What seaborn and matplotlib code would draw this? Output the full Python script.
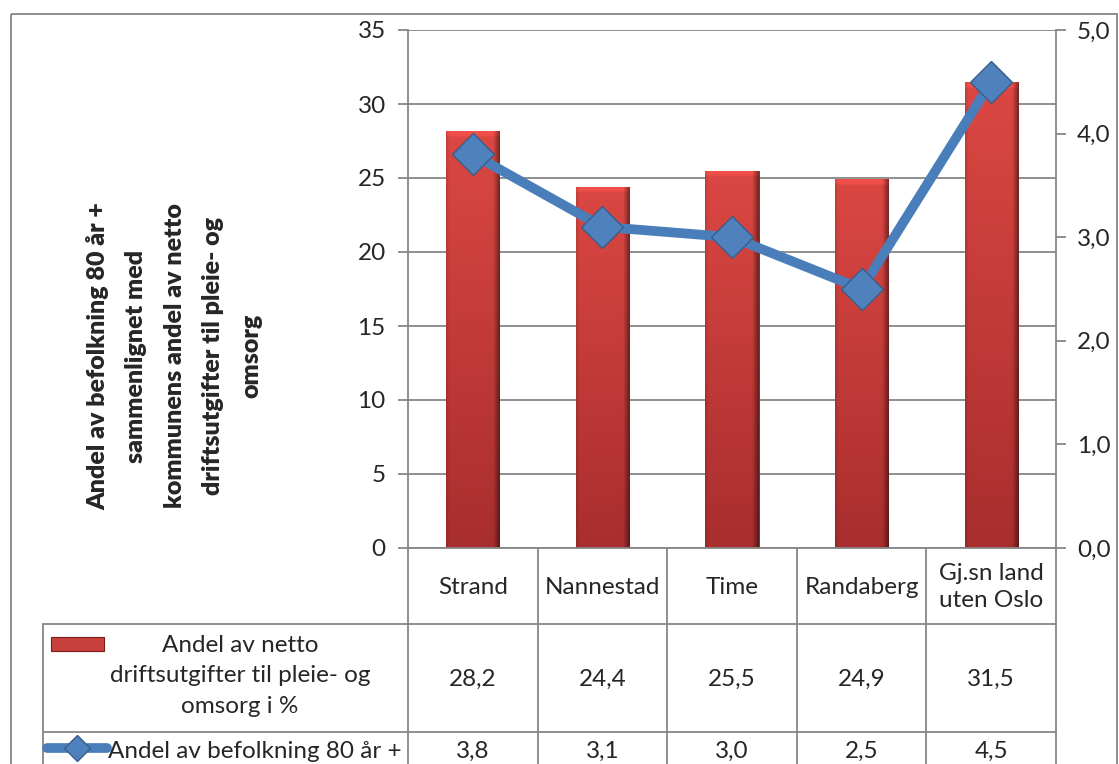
import numpy as np
import pandas as pd
import seaborn as sns
import matplotlib.pyplot as plt
from matplotlib.patches import Rectangle
from matplotlib.lines import Line2D

# data
categories = ["Strand", "Nannestad", "Time", "Randaberg", "Gj.sn land\nuten Oslo"]
utgifter = [28.2, 24.4, 25.5, 24.9, 31.5]
befolkning80 = [3.8, 3.1, 3.0, 2.5, 4.5]
left_ticks = [0, 5, 10, 15, 20, 25, 30, 35]
right_ticks = [0, 1, 2, 3, 4, 5]

bar_label = "Andel av netto\ndriftsutgifter til pleie- og\nomsorg i %"
line_label = "Andel av befolkning 80 år +"
ylabel = ("Andel av befolkning 80 år +\nsammenlignet med\nkommunens andel av netto\n"
          "driftsutgifter til pleie- og\nomsorg")

sns.set_style("white")
plt.rcParams['font.family'] = ['Lato', 'DejaVu Sans']

W, H = 1119, 764
GRAY = "#868686"
FS = 17.5
fig = plt.figure(figsize=(W / 100, H / 100), dpi=100)

# plot area in pixels
pl, pr, pt, pb = 408, 1056, 30, 548
ax = fig.add_axes([pl / W, 1 - pb / H, (pr - pl) / W, (pb - pt) / H])

df = pd.DataFrame({"kommune": categories, "utgifter": utgifter})
sns.barplot(data=df, x="kommune", y="utgifter", ax=ax, width=0.41,
            color="#C8403C", saturation=1, edgecolor="#7a1a1a", linewidth=0.6)

# red gradient inside each bar
ny, nx = 200, 60
yy = np.linspace(0, 1, ny)[:, None]
xx = np.linspace(0, 1, nx)[None, :]
top = np.array([0.86, 0.28, 0.26])
bot = np.array([0.66, 0.18, 0.18])
grad = top[None, None, :] * (1 - yy[..., None]) + bot[None, None, :] * yy[..., None]
shade = 1 - 0.45 * np.clip((xx - 0.88) / 0.12, 0, 1) - 0.12 * np.clip((0.06 - xx) / 0.06, 0, 1)
grad = grad * shade[..., None]
grad[:3] = np.clip(grad[:3] * 1.1, 0, 1)
for p in list(ax.patches):
    x0, y0 = p.get_x(), p.get_y()
    w, h = p.get_width(), p.get_height()
    im = ax.imshow(grad, extent=[x0, x0 + w, y0, y0 + h], aspect="auto", zorder=2)
    im.set_clip_path(p)

ax.set_xlim(-0.5, 4.5)
ax.set_ylim(0, 35)
ax.set_yticks(left_ticks)
ax.yaxis.grid(True, color=GRAY, lw=1.3)
ax.set_axisbelow(True)
ax.set_xlabel("")
ax.set_ylabel("")
ax.tick_params(axis="x", bottom=False, labelbottom=False)
ax.tick_params(axis="y", left=True, length=7, width=1.3, color=GRAY, labelsize=FS, pad=9)
for s in ["top", "right"]:
    ax.spines[s].set_visible(False)
for s in ["left", "bottom"]:
    ax.spines[s].set_color(GRAY)
    ax.spines[s].set_linewidth(1.3)
ax.patch.set_alpha(0)

# line on secondary axis
ax2 = ax.twinx()
sns.lineplot(x=np.arange(len(categories)), y=befolkning80, ax=ax2, color="#4A7EBB",
             linewidth=7, marker="D", markersize=21, markerfacecolor="#4F81BD",
             markeredgecolor="#385D8A", markeredgewidth=1)
ax2.set_ylim(0, 5)
ax2.set_xlim(-0.5, 4.5)
ax2.set_yticks(right_ticks)
ax2.set_yticklabels([f"{v:.1f}".replace(".", ",") for v in right_ticks])
ax2.tick_params(axis="y", right=True, length=7, width=1.3, color=GRAY, labelsize=FS, pad=8)
for s in ["top", "left", "bottom"]:
    ax2.spines[s].set_visible(False)
ax2.spines["right"].set_color(GRAY)
ax2.spines["right"].set_linewidth(1.3)
ax2.set_xlabel("")
ax2.set_ylabel("")

# overlay in pixel coords for border, y label and data table
ov = fig.add_axes([0, 0, 1, 1], zorder=-1)
ov.set_xlim(0, W)
ov.set_ylim(H, 0)
ov.axis("off")

ov.add_patch(Rectangle((11, 14), 1106, H, fill=False, edgecolor=GRAY, lw=1.3))

ov.text(174, 356, ylabel, rotation=90, ha="center", va="center", multialignment="center",
        fontsize=18, fontweight="heavy", linespacing=1.9)

edges = pl + (pr - pl) * np.arange(len(categories) + 1) / len(categories)
centers = (edges[:-1] + edges[1:]) / 2
row1, row2 = 624, 732
for x in edges:
    ov.add_line(Line2D([x, x], [pb, H], color=GRAY, lw=1.3))
ov.add_line(Line2D([43, 43], [row1, H], color=GRAY, lw=1.3))
for y in [row1, row2]:
    ov.add_line(Line2D([43, pr], [y, y], color=GRAY, lw=1.3))

for cx, cat, u, b in zip(centers, categories, utgifter, befolkning80):
    ov.text(cx, 587, cat, ha="center", va="center", fontsize=FS, linespacing=1.3)
    ov.text(cx, 679, f"{u:.1f}".replace(".", ","), ha="center", va="center", fontsize=FS)
    ov.text(cx, 751, f"{b:.1f}".replace(".", ","), ha="center", va="center", fontsize=FS)

ov.text(240, 676, bar_label, ha="center", va="center", fontsize=FS, linespacing=1.55)
ov.add_patch(Rectangle((51, 637), 53, 14, facecolor="#C8403C", edgecolor="#7a1a1a", lw=0.8))
ov.text(108, 751, line_label, ha="left", va="center", fontsize=FS)
ov.add_line(Line2D([47, 107], [748, 748], color="#4A7EBB", lw=7, solid_capstyle="round"))
ov.add_line(Line2D([77], [748], marker="D", markersize=13, markerfacecolor="#4F81BD",
                   markeredgecolor="#385D8A", markeredgewidth=1, linestyle="none"))

fig.savefig("out.png", dpi=100)
